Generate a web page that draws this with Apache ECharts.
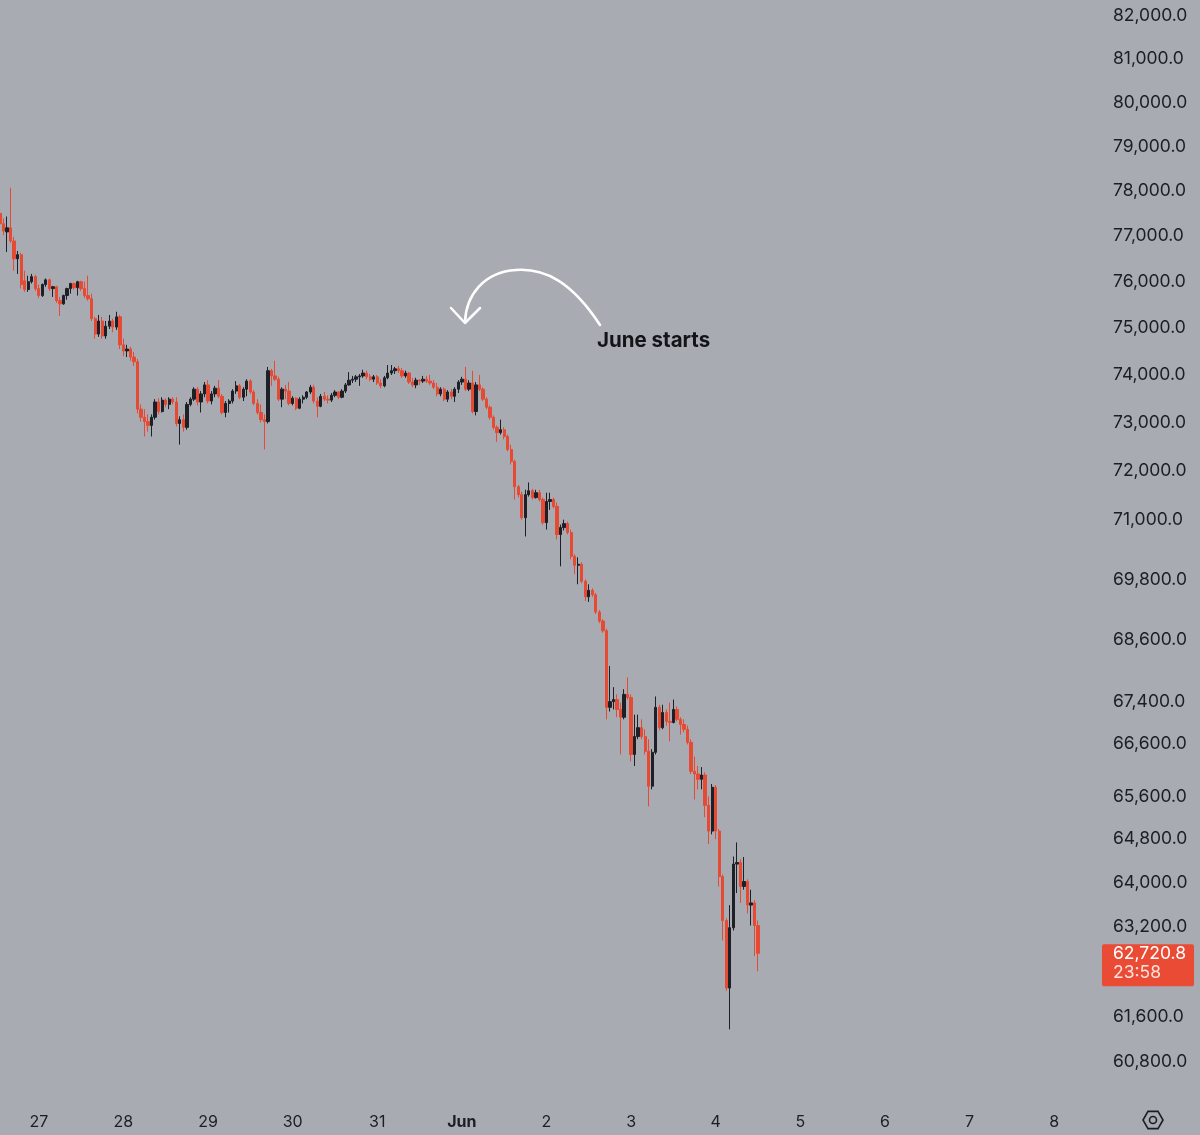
<!DOCTYPE html>
<html>
<head>
<meta charset="utf-8">
<script src="https://cdn.jsdelivr.net/npm/echarts@6/dist/echarts.min.js"></script>
<style>
  html, body { margin: 0; padding: 0; background: #a9abb3; }
  #chart { width: 1200px; height: 1135px; }
</style>
</head>
<body>
<div id="chart"></div>
<script>
// hourly candles, first one at May 26 13:00, empty slots run out to Jun 8 13:00
const startUTC = Date.UTC(2024, 4, 26, 13);
const slotCount = 313;
const firstMidnight = 11;
const dayLabels = ['27', '28', '29', '30', '31', 'Jun', '2', '3', '4', '5', '6', '7', '8'];
const priceTicks = [82000, 81000, 80000, 79000, 78000, 77000, 76000, 75000, 74000, 73000, 72000,
  71000, 69800, 68600, 67400, 66600, 65600, 64800, 64000, 63200, 61600, 60800];
const lastPrice = 62720.8;
const countdown = '23:58';

// [open, close, low, high]
const may26 = [
  [77500, 77270, 77160, 77570], [77270, 77110, 77020, 77390], [77090, 77180, 76650, 77430],
  [77180, 76890, 76850, 78070], [76890, 76500, 76240, 76980], [76500, 76590, 76170, 76670],
  [76590, 75940, 75850, 76630], [76020, 75830, 75780, 76240], [75830, 76000, 75780, 76130],
  [76000, 76110, 75960, 76170], [76110, 75850, 75800, 76150]
];
const may27 = [
  [75850, 75700, 75650, 75940], [75700, 75940, 75670, 75960], [75940, 76040, 75890, 76070],
  [76040, 75850, 75800, 76070], [75850, 75890, 75670, 75910], [75890, 75590, 75540, 75910],
  [75590, 75520, 75260, 75670], [75520, 75700, 75500, 75720], [75700, 75850, 75610, 75870],
  [75850, 75960, 75740, 75980], [75960, 75870, 75830, 75980], [75870, 76000, 75700, 76020],
  [76000, 75850, 75800, 76020], [75850, 75700, 75650, 76000], [75700, 75630, 75590, 76130],
  [75630, 75200, 75150, 75740], [75200, 74870, 74770, 75240], [74870, 75150, 74810, 75280],
  [75150, 74830, 74770, 75240], [74830, 75040, 74770, 75150], [75040, 75150, 74980, 75280],
  [75150, 75020, 74910, 75200], [75020, 75240, 74960, 75350], [75240, 74640, 74550, 75280]
];
const may28 = [
  [74640, 74510, 74400, 74770], [74510, 74550, 74380, 74640], [74550, 74380, 74300, 74600],
  [74380, 74280, 74190, 74490], [74280, 73280, 73190, 74340], [73280, 73110, 73020, 73380],
  [73110, 73020, 72710, 73280], [73020, 72940, 72810, 73170], [72940, 73110, 72710, 73170],
  [73110, 73430, 73060, 73490], [73430, 73230, 73170, 73510], [73230, 73470, 73210, 73530],
  [73470, 73380, 73320, 73510], [73380, 73490, 73280, 73530], [73490, 73430, 73380, 73530],
  [73430, 72980, 72920, 73530], [72980, 73060, 72540, 73130], [73060, 72900, 72810, 73170],
  [72900, 73380, 72850, 73430], [73380, 73490, 73340, 73530], [73490, 73700, 73450, 73740],
  [73700, 73430, 73360, 73740], [73430, 73600, 73210, 73660], [73600, 73790, 73530, 73850]
];
const may29 = [
  [73790, 73450, 73400, 73890], [73450, 73600, 73380, 73660], [73600, 73720, 73530, 73770],
  [73720, 73550, 73510, 73890], [73550, 73210, 73170, 73600], [73210, 73400, 73110, 73450],
  [73400, 73450, 73210, 73490], [73450, 73660, 73400, 73700], [73660, 73770, 73600, 73870],
  [73770, 73530, 73490, 73810], [73530, 73700, 73450, 73740], [73700, 73870, 73550, 73910],
  [73870, 73640, 73600, 73910], [73640, 73400, 73360, 73680], [73400, 73210, 73170, 73490],
  [73210, 73060, 73000, 73380], [73060, 73020, 72440, 73170], [73020, 74090, 72980, 74170],
  [74090, 73980, 73770, 74130], [73980, 73910, 73870, 74300], [73910, 73490, 73450, 73960],
  [73490, 73700, 73320, 73740], [73700, 73660, 73490, 73790], [73660, 73400, 73360, 73850]
];
const may30 = [
  [73400, 73510, 73360, 73550], [73510, 73300, 73260, 73530], [73300, 73490, 73280, 73530],
  [73490, 73530, 73400, 73570], [73530, 73640, 73490, 73660], [73640, 73740, 73600, 73790],
  [73740, 73450, 73400, 73790], [73450, 73340, 73110, 73530], [73340, 73550, 73320, 73600],
  [73550, 73490, 73450, 73640], [73490, 73470, 73400, 73570], [73470, 73570, 73430, 73620],
  [73570, 73640, 73530, 73680], [73640, 73530, 73490, 73660], [73530, 73660, 73510, 73700],
  [73660, 73790, 73620, 73830], [73790, 73890, 73770, 74060], [73890, 73910, 73830, 73980],
  [73910, 73960, 73850, 74000], [73960, 73980, 73770, 74020], [73980, 74040, 73940, 74110],
  [74040, 73960, 73910, 74090], [73960, 73910, 73870, 74020], [73910, 73960, 73850, 74000]
];
const may31 = [
  [73960, 73830, 73790, 74000], [73830, 73770, 73720, 73910], [73770, 73940, 73740, 73980],
  [73940, 74040, 73910, 74210], [74040, 74090, 74000, 74210], [74090, 74130, 74020, 74170],
  [74130, 74090, 74040, 74190], [74090, 73980, 73940, 74150], [73980, 74040, 73940, 74090],
  [74040, 73850, 73810, 74060], [73850, 73790, 73740, 73940], [73790, 73890, 73720, 73940],
  [73890, 73870, 73790, 73910], [73870, 73910, 73830, 73980], [73910, 73870, 73830, 73980],
  [73870, 73830, 73790, 74000], [73830, 73740, 73700, 73890], [73740, 73600, 73550, 73830],
  [73600, 73700, 73550, 73740], [73700, 73490, 73450, 73740], [73490, 73640, 73430, 73680],
  [73640, 73550, 73490, 73700], [73550, 73700, 73430, 73740], [73700, 73850, 73620, 73890]
];
const jun1 = [
  [73850, 73910, 73790, 73960], [73910, 73700, 73660, 74170], [73700, 73830, 73660, 73890],
  [73830, 73230, 73190, 74090], [73230, 73790, 73150, 73850], [73790, 73700, 73660, 74000],
  [73700, 73490, 73450, 73740], [73490, 73320, 73280, 73530], [73320, 73110, 73060, 73360],
  [73110, 72900, 72850, 73150], [72900, 72790, 72600, 72940], [72790, 72850, 72750, 73060],
  [72850, 72710, 72650, 72900], [72710, 72440, 72400, 72750], [72440, 72190, 72130, 72540],
  [72190, 71670, 71410, 72230], [71670, 71510, 71450, 71710], [71510, 71040, 71000, 71570],
  [71040, 71510, 70660, 71610], [71510, 71590, 71470, 71760], [71590, 71450, 71410, 71630],
  [71450, 71550, 71430, 71610], [71550, 71410, 71370, 71610], [71410, 70940, 70900, 71450]
];
const jun2 = [
  [70940, 71370, 70800, 71550], [71370, 71410, 71200, 71550], [71410, 71270, 71230, 71450],
  [71270, 70700, 70600, 71350], [70700, 70840, 70060, 70900], [70840, 70920, 70780, 71000],
  [70920, 70740, 70700, 70960], [70740, 70260, 70200, 70800], [70260, 70080, 69900, 70300],
  [70080, 70100, 69700, 70240], [70100, 69760, 69720, 70140], [69760, 69450, 69370, 69800],
  [69450, 69580, 69350, 69700], [69580, 69490, 69450, 69620], [69490, 69150, 69110, 69530],
  [69150, 68970, 68930, 69190], [68970, 68780, 68740, 69010], [68780, 67290, 67060, 68820],
  [67290, 67400, 67210, 68090], [67400, 67440, 67250, 67680], [67440, 67250, 67100, 67540],
  [67250, 67100, 66390, 67380], [67100, 67540, 67060, 67640], [67540, 67480, 67440, 67870]
];
const jun3 = [
  [67480, 66390, 66260, 67540], [66390, 66730, 66170, 67150], [66730, 66900, 66680, 67150],
  [66900, 66730, 66680, 67060], [66730, 66450, 66390, 66870], [66450, 65790, 65410, 66680],
  [65790, 66430, 65730, 66490], [66430, 67290, 66390, 67500], [67290, 66900, 66850, 67340],
  [66900, 67190, 66870, 67340], [67190, 67020, 66940, 67250], [67020, 67000, 66640, 67380],
  [67000, 67250, 66980, 67440], [67250, 67060, 67020, 67310], [67060, 66960, 66770, 67100],
  [66960, 66870, 66810, 67060], [66870, 66620, 66580, 66940], [66620, 66070, 66020, 66680],
  [66070, 66020, 65540, 66350], [66020, 65920, 65730, 66170], [65920, 66000, 65730, 66150],
  [66000, 65430, 65210, 66050], [65430, 64950, 64710, 65600], [64950, 65770, 64890, 65830]
];
const jun4 = [
  [65770, 64950, 64800, 65810], [64950, 64110, 63930, 64990], [64110, 63310, 62950, 64150],
  [63310, 62100, 62050, 63350], [62100, 63180, 61370, 63590], [63180, 64340, 63130, 64480],
  [64340, 64370, 63810, 64740], [64370, 63930, 63630, 64430], [63930, 64020, 63870, 64470],
  [64020, 63590, 63440, 64060], [63590, 63630, 63220, 63870], [63630, 63220, 62670, 63680],
  [63220, lastPrice, 62400, 63310]
];

const RED = '#e64a33';
const DARK = '#1d2026';
const TEXT = '#1b1e25';
const FONT = 'Inter';

const candles = [].concat(may26, may27, may28, may29, may30, may31, jun1, jun2, jun3, jun4);

const hours = [];
for (let i = 0; i < slotCount; i++) {
  hours.push(new Date(startUTC + i * 3600e3).toISOString().slice(0, 16));
}

// price axis is logarithmic: work in ln(price)
const ln = Math.log;
const pxPerLn = 3496.8;
const plotH = 1100;
const yMax = ln(82000) + 16 / pxPerLn;
const yMin = yMax - plotH / pxPerLn;

const fmt = new Intl.NumberFormat('en-US', { minimumFractionDigits: 1, maximumFractionDigits: 1 });

const chart = echarts.init(document.getElementById('chart'));

const option = {
  backgroundColor: '#a9abb3',
  animation: false,
  grid: { left: 0, right: 100, top: 0, bottom: 35 },
  xAxis: {
    type: 'category',
    data: hours,
    boundaryGap: false,
    axisLine: { show: false },
    axisTick: { show: false },
    splitLine: { show: false },
    axisLabel: {
      interval: (idx) => (idx - firstMidnight) % 24 === 0,
      formatter: (val, idx) => {
        const lbl = dayLabels[(idx - firstMidnight) / 24] || '';
        return lbl === 'Jun' ? '{b|Jun}' : lbl;
      },
      margin: 12,
      color: TEXT,
      fontFamily: FONT,
      fontSize: 16,
      padding: [2, 0, 0, 0],
      rich: { b: { fontFamily: FONT, fontSize: 16, fontWeight: 'bold', color: TEXT } }
    }
  },
  yAxis: {
    type: 'value',
    position: 'right',
    min: yMin,
    max: yMax,
    axisLine: { show: false },
    axisTick: { show: false },
    splitLine: { show: false },
    axisLabel: {
      customValues: priceTicks.map(ln),
      formatter: (v) => fmt.format(Math.round(Math.exp(v))),
      margin: 13,
      color: TEXT,
      fontFamily: FONT,
      fontSize: 17.5,
      padding: [8, 0, 0, 0]
    }
  },
  series: [{
    type: 'candlestick',
    data: candles.map(r => r.map(ln)),
    barWidth: 2.8,
    itemStyle: {
      color: DARK,
      color0: RED,
      borderColor: DARK,
      borderColor0: RED,
      borderWidth: 1
    }
  }]
};

chart.setOption(option);

const py = chart.convertToPixel({ yAxisIndex: 0 }, ln(lastPrice));
const hex = [];
for (let k = 0; k < 6; k++) {
  const a = Math.PI / 3 * k;
  hex.push([1153 + 10 * Math.cos(a), 1120 + 10 * Math.sin(a)]);
}

chart.setOption({
  graphic: [
    {
      type: 'bezierCurve', silent: true,
      shape: { x1: 600, y1: 325, cpx1: 572, cpy1: 282, cpx2: 545, cpy2: 268, x2: 516, y2: 270 },
      style: { stroke: '#ffffff', lineWidth: 2.5, fill: null, lineCap: 'round' }
    },
    {
      type: 'bezierCurve', silent: true,
      shape: { x1: 516, y1: 270, cpx1: 484, cpy1: 272, cpx2: 466, cpy2: 295, x2: 465, y2: 322 },
      style: { stroke: '#ffffff', lineWidth: 2.5, fill: null, lineCap: 'round' }
    },
    {
      type: 'polyline', silent: true,
      shape: { points: [[451, 308], [465, 323], [480, 308]] },
      style: { stroke: '#ffffff', lineWidth: 2.5, fill: null, lineCap: 'round', lineJoin: 'round' }
    },
    {
      type: 'text', x: 597, y: 341, silent: true,
      style: { text: 'June starts', fill: '#121418', font: 'bold 20.5px Inter', verticalAlign: 'middle' }
    },
    {
      type: 'polygon', silent: true,
      shape: { points: hex },
      style: { stroke: TEXT, lineWidth: 1.6, fill: null }
    },
    {
      type: 'circle', silent: true,
      shape: { cx: 1153, cy: 1120, r: 3.5 },
      style: { stroke: TEXT, lineWidth: 1.6, fill: null }
    },
    {
      type: 'rect', silent: true,
      shape: { x: 1102, y: py - 9, width: 92, height: 42, r: 2 },
      style: { fill: '#ea4b34' }
    },
    {
      type: 'text', x: 1113, y: py + 1, silent: true,
      style: { text: fmt.format(lastPrice), fill: '#ffffff', font: '17.5px Inter', verticalAlign: 'middle' }
    },
    {
      type: 'text', x: 1113, y: py + 20, silent: true,
      style: { text: countdown, fill: '#fbe2dc', font: '17.5px Inter', verticalAlign: 'middle' }
    }
  ]
});
</script>
</body>
</html>
